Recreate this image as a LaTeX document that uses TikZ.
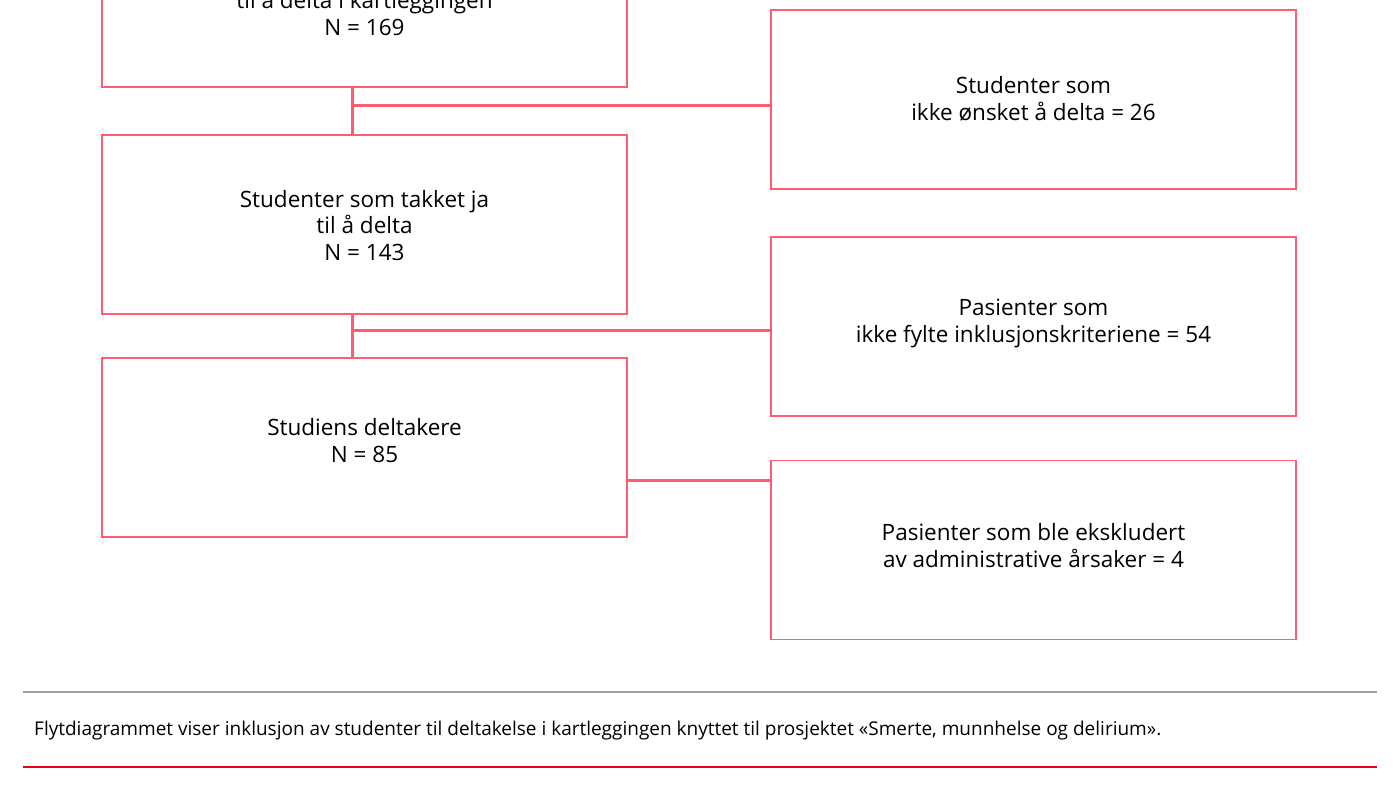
\documentclass[tikz,border=0pt]{standalone}
\usepackage{fontspec}
\setmainfont{Open Sans}
\definecolor{boxred}{RGB}{255,92,112}
\definecolor{footred}{RGB}{226,0,26}
\definecolor{footgray}{RGB}{160,160,160}
\begin{document}
\begin{tikzpicture}[x=1pt,y=-1pt,
  box/.style={draw=boxred,line width=1.3pt,minimum width=525pt,minimum height=179pt,inner sep=0pt,outer sep=0pt},
  boxtext/.style={align=center,font=\fontsize{22.5}{26.5}\selectfont,inner sep=0pt},
  conn/.style={draw=boxred,line width=3pt}]
\useasboundingbox (0,0) rectangle (1400,786);
% left column boxes
\node[box] (b1) at (364.5,-2.5) {};
\node[box] (b2) at (364.5,224.5) {};
\node[box] (b3) at (364.5,447.5) {};
% right column boxes
\node[box] (r1) at (1033.5,99.5) {};
\node[box] (r2) at (1033.5,326.5) {};
\node[box] (r3) at (1033.5,550) {};
% texts
\node[boxtext] (t1) at (364.5,13) {til å delta i kartleggingen\\N = 169};
\node[boxtext] (t2) at (364.5,225.5) {Studenter som takket ja\\til å delta\\N = 143};
\node[boxtext] (t3) at (364.5,440.5) {Studiens deltakere\\N = 85};
\node[boxtext] (u1) at (1033.5,99) {Studenter som\\ikke ønsket å delta = 26};
\node[boxtext] (u2) at (1033.5,323.5) {Pasienter som\\ikke fylte inklusjonskriteriene = 54};
\node[boxtext] (u3) at (1033.5,545.5) {Pasienter som ble ekskludert\\av administrative årsaker = 4};
% connectors
\coordinate (j1) at (352,106);
\coordinate (j2) at (352,330);
\coordinate (j3) at (627,480);
\draw[conn] (j1 |- b1.south) -- (j1 |- b2.north);
\draw[conn] (j1) -- (r1.west |- j1);
\draw[conn] (j2 |- b2.south) -- (j2 |- b3.north);
\draw[conn] (j2) -- (r2.west |- j2);
\draw[conn] (b3.east |- j3) -- (r3.west |- j3);
% footer
\coordinate (gl) at (23,692);
\coordinate (gr) at (1377,692);
\coordinate (rl) at (23,767);
\coordinate (rr) at (1377,767);
\draw[footgray,line width=1.4pt] (gl) -- (gr);
\draw[footred,line width=2.6pt] (rl) -- (rr);
\node[anchor=west,inner sep=0pt,font=\fontsize{19}{22}\selectfont] (cap) at (34,731) {Flytdiagrammet viser inklusjon av studenter til deltakelse i kartleggingen knyttet til prosjektet «Smerte, munnhelse og delirium».};
\end{tikzpicture}
\end{document}
